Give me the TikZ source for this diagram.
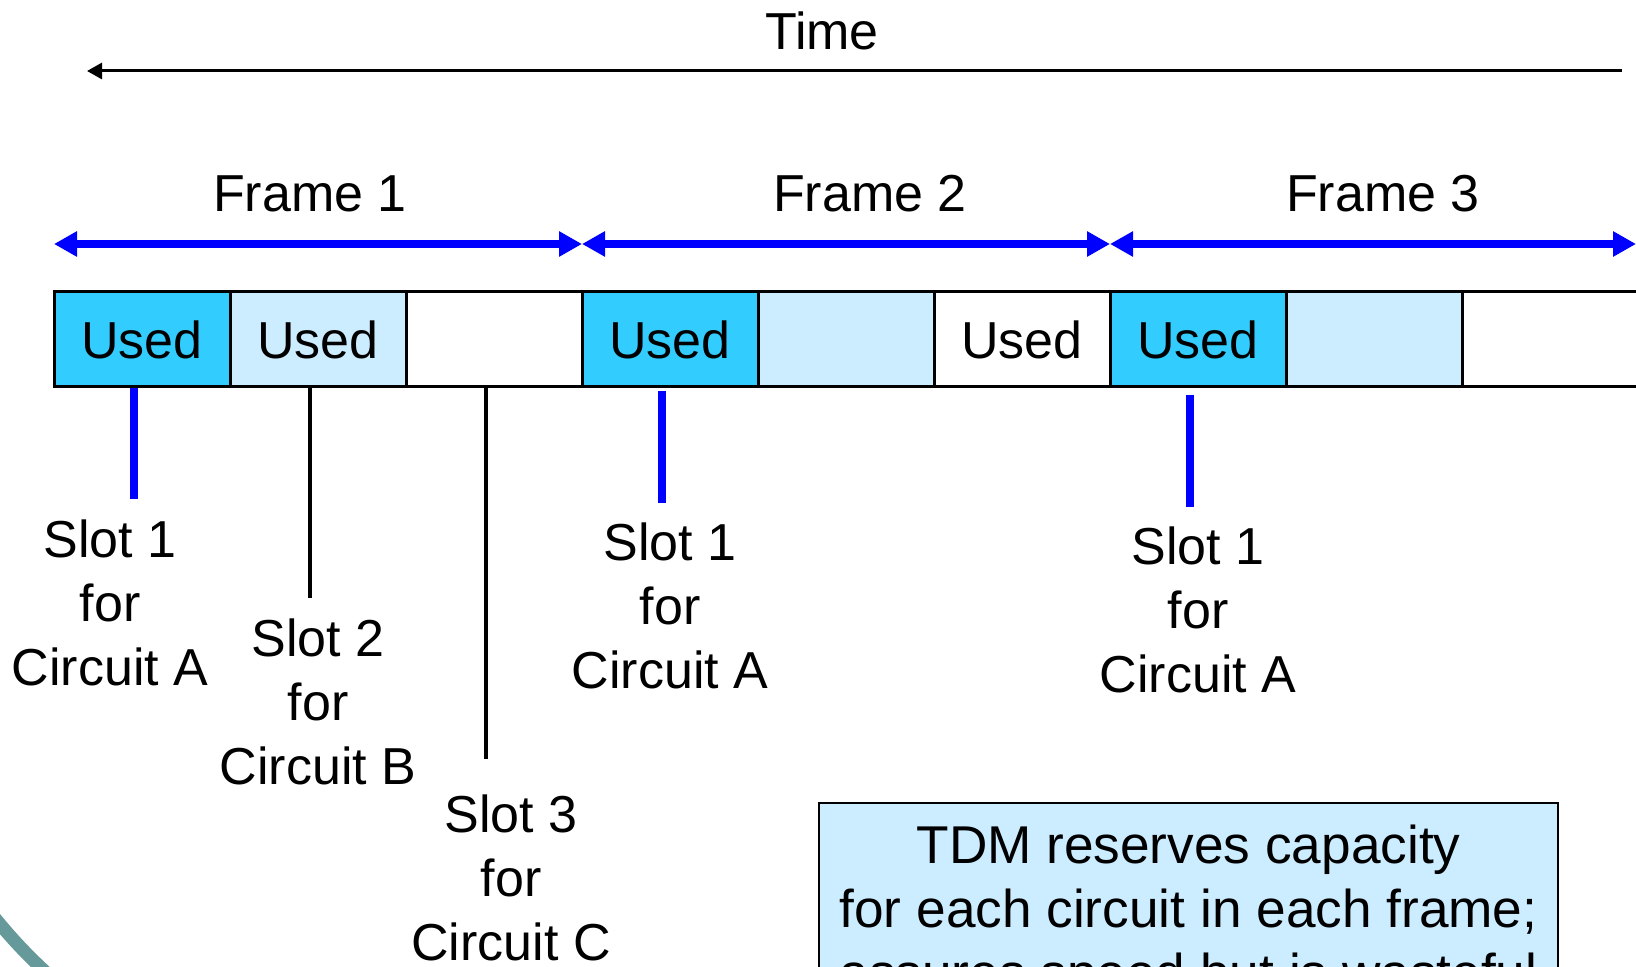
\documentclass[tikz,border=0pt]{standalone}
\usepackage{fontspec}
\setmainfont{Liberation Sans}
\usetikzlibrary{arrows.meta}
\definecolor{slotcyan}{HTML}{33CCFF}
\definecolor{slotpale}{HTML}{CCECFF}
\definecolor{tealarc}{HTML}{669999}
\begin{document}
\begin{tikzpicture}[x=0.5pt, y=-0.5pt,
  txt/.style={font=\fontsize{26}{32}\selectfont, inner sep=0pt, align=center},
  slotbox/.style={draw=black, line width=1.5pt, minimum width=88pt, minimum height=47.5pt,
                  inner sep=0pt, outer sep=0pt, anchor=north west, font=\fontsize{26}{32}\selectfont},
  usedA/.style={slotbox, fill=slotcyan},
  usedB/.style={slotbox, fill=slotpale},
  usedC/.style={slotbox, fill=white},
  framearrow/.style={draw=blue, line width=4pt,
                     arrows={Triangle[length=11.5pt,width=12pt]-Triangle[length=11.5pt,width=12pt]}},
  timearrow/.style={draw=black, line width=1.5pt, -{Triangle[length=7.5pt,width=8pt]}},
  leadblue/.style={draw=blue, line width=4pt},
  leadblack/.style={draw=black, line width=1.75pt},
  notebox/.style={draw=black, line width=1pt, fill=slotpale, minimum width=369.5pt,
                  font=\fontsize{26.6}{32}\selectfont, align=center,
                  inner xsep=0pt, inner ysep=11pt, outer sep=0pt, anchor=north}
]
\useasboundingbox (0,0) rectangle (1636,967);
\fill[white] (0,0) rectangle (1636,967);

% decorative arc in the lower left corner
\draw[tealarc, line width=6.5pt] (-25,893) .. controls (0,925) and (20,950) .. (60,985);

% time axis
\node[txt, anchor=base] (time) at (822,50) {Time};
\coordinate (tstart) at (1622,71);
\coordinate (tend) at (87,71);
\draw[timearrow] (tstart) -- (tend);

% frame extents
\coordinate (f0) at (54,244);
\coordinate (f1) at (582,244);
\coordinate (f2) at (1110,244);
\coordinate (f3) at (1636,244);
\draw[framearrow] (f0) -- (f1);
\draw[framearrow] (f1) -- (f2);
\draw[framearrow] (f2) -- (f3);
\node[txt, anchor=base] (frame1) at (310,212) {Frame 1};
\node[txt, anchor=base] (frame2) at (870,212) {Frame 2};
\node[txt, anchor=base] (frame3) at (1383,212) {Frame 3};

% time slots
\node[usedA] (s1) at (54,292) {Used};
\node[usedB] (s2) at (230,292) {Used};
\node[usedC] (s3) at (406,292) {};
\node[usedA] (s4) at (582,292) {Used};
\node[usedB] (s5) at (758,292) {};
\node[usedC] (s6) at (934,292) {Used};
\node[usedA] (s7) at (1110,292) {Used};
\node[usedB] (s8) at (1286,292) {};
\node[usedC] (s9) at (1462,292) {};

% slot labels
\node[txt] (l1) at (110,603) {Slot 1\\for\\Circuit A};
\node[txt] (l2) at (318,702) {Slot 2\\for\\Circuit B};
\node[txt] (l3) at (511,878) {Slot 3\\for\\Circuit C};
\node[txt] (l4) at (670,606) {Slot 1\\for\\Circuit A};
\node[txt] (l5) at (1198,610) {Slot 1\\for\\Circuit A};

% leader lines from the slots
\coordinate (e1) at (134,499);
\coordinate (e2) at (310,598);
\coordinate (e3) at (486,759);
\coordinate (e4) at (662,503);
\coordinate (e5) at (1190,507);
\draw[leadblue] ([shift={(-8,1)}]s1.south) -- (e1);
\draw[leadblack] ([shift={(-8,0)}]s2.south) -- (e2);
\draw[leadblack] ([shift={(-8,0)}]s3.south) -- (e3);
\draw[leadblue] ([shift={(-8,4)}]s4.south) -- (e4);
\draw[leadblue] ([shift={(-8,8)}]s7.south) -- (e5);

% note
\node[notebox] (note) at (1188.5,803)
  {TDM reserves capacity\\for each circuit in each frame;\\assures speed but is wasteful};
\end{tikzpicture}
\end{document}
